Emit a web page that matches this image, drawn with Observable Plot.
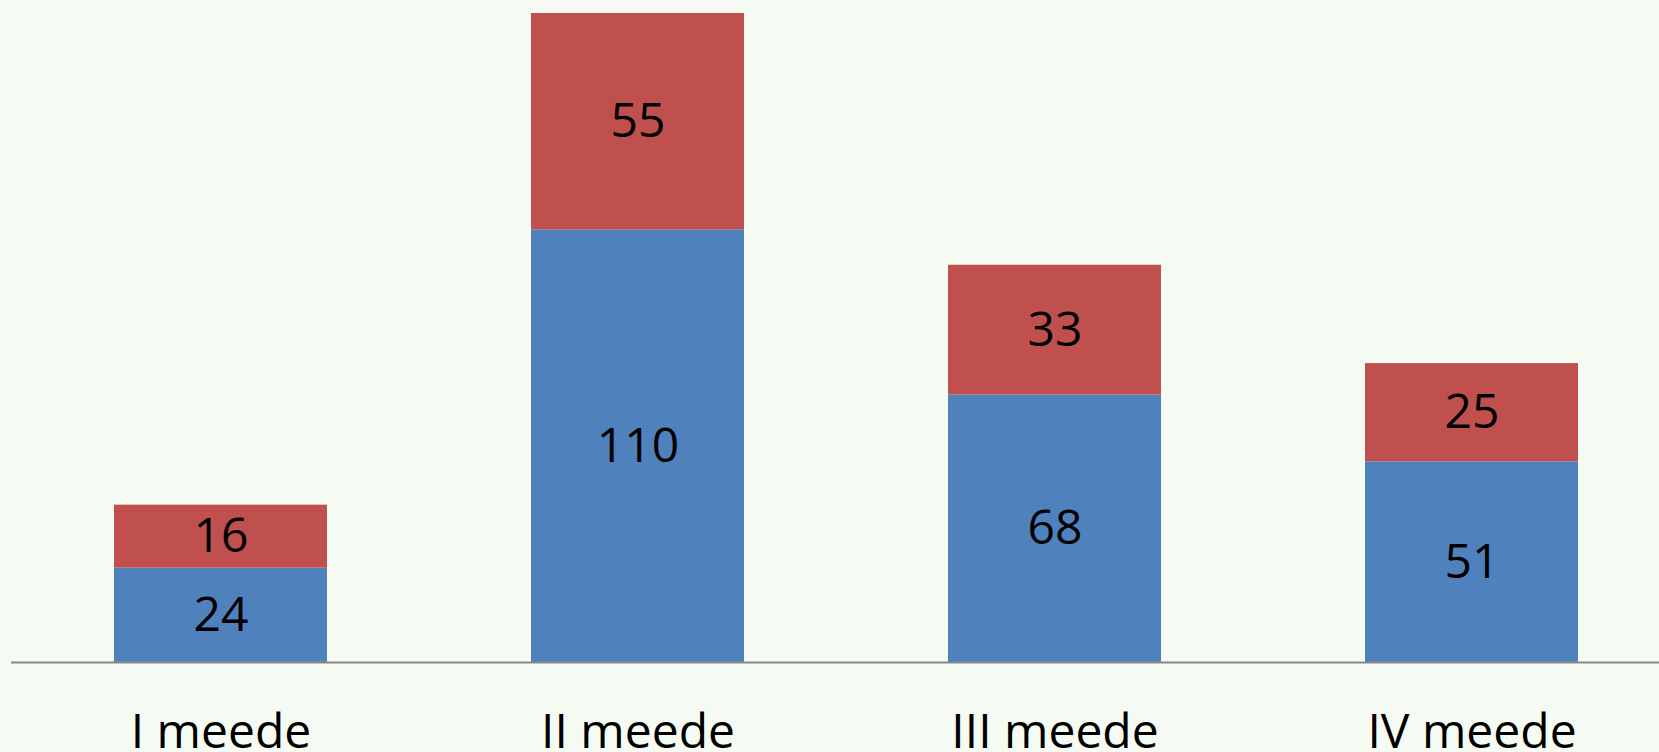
<!DOCTYPE html>
<html>
<head>
<meta charset="utf-8">
<script src="https://cdn.jsdelivr.net/npm/d3@7"></script>
<script src="https://cdn.jsdelivr.net/npm/@observablehq/plot@0.6"></script>
<style>
  html, body { margin: 0; padding: 0; background: #f5faf3; }
  #chart svg { display: block; }
</style>
</head>
<body>
<div id="chart"></div>
<script>
const categories = ["I meede", "II meede", "III meede", "IV meede"];
const seriesNames = ["A", "B"];
const seriesA = [24, 110, 68, 51];   // blue, bottom
const seriesB = [16, 55, 33, 25];    // red, top

const rows = [];
categories.forEach((c, i) => rows.push({cat: c, series: seriesNames[0], value: seriesA[i]}));
categories.forEach((c, i) => rows.push({cat: c, series: seriesNames[1], value: seriesB[i]}));

const chart = Plot.plot({
  width: 1659,
  height: 752,
  marginTop: 13,
  marginBottom: 90,
  marginLeft: 11,
  marginRight: 0,
  style: {background: "#f5faf3", fontFamily: "'Open Sans', sans-serif"},
  x: {domain: categories, range: [0, 1692], paddingInner: 0.49, paddingOuter: 0.27, label: null},
  y: {domain: [0, 165], axis: null},
  color: {domain: seriesNames, range: ["#4f81bd", "#c0504d"]},
  marks: [
    Plot.barY(rows, Plot.stackY({x: "cat", y: "value", z: "series", fill: "series", order: null})),
    Plot.text(rows, Plot.stackY({x: "cat", y: "value", z: "series", text: d => String(d.value), order: null, fontSize: 48, fill: "black"})),
    Plot.ruleY([0], {stroke: "#878787", strokeWidth: 2}),
    Plot.axisX({tickSize: 0, tickPadding: 51, fontSize: 48, fill: "black", label: null})
  ]
});
document.getElementById("chart").appendChild(chart);
</script>
</body>
</html>
